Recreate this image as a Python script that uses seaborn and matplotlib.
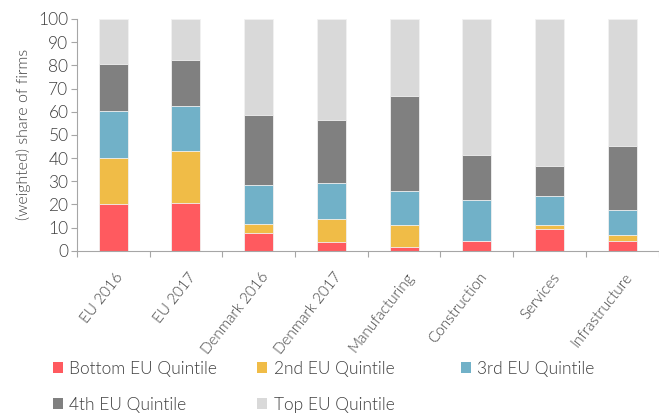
import matplotlib
matplotlib.use("Agg")
import matplotlib.pyplot as plt
import matplotlib.transforms as mtrans
import seaborn as sns
import pandas as pd
import numpy as np
from matplotlib.patches import Patch
from matplotlib.ticker import FixedLocator

categories = ["EU 2016", "EU 2017", "Denmark 2016", "Denmark 2017",
              "Manufacturing", "Construction", "Services", "Infrastructure"]
series = ["Bottom EU Quintile", "2nd EU Quintile", "3rd EU Quintile",
          "4th EU Quintile", "Top EU Quintile"]
bottom_q = [20.0, 20.7, 7.6, 3.9, 1.6, 4.0, 9.4, 4.0]
second_q = [20.1, 22.2, 4.1, 9.8, 9.5, 0.0, 1.7, 2.8]
third_q = [20.1, 19.7, 16.8, 15.5, 14.5, 17.7, 12.4, 10.8]
fourth_q = [20.2, 19.6, 29.9, 27.1, 41.3, 19.5, 13.1, 27.7]
top_q = [19.6, 17.8, 41.6, 43.7, 33.1, 58.8, 63.4, 54.7]
colors = ["#FF5A5F", "#F0BC47", "#71B1C8", "#808080", "#D9D9D9"]

sns.set_theme(style="white")
plt.rcParams["font.family"] = ["Lato", "DejaVu Sans"]
plt.rcParams["font.weight"] = 300
TXT = "#404040"

values = [bottom_q, second_q, third_q, fourth_q, top_q]
cum = np.cumsum(np.array(values), axis=0)
df = pd.DataFrame({"category": categories})
for s, c in zip(series, cum):
    df[s] = c

fig = plt.figure(figsize=(6.59, 4.13), dpi=100)
ax = fig.add_axes([0.1165, 0.393, 0.883, 0.561])

for s, col in reversed(list(zip(series, colors))):
    sns.barplot(data=df, x="category", y=s, color=col, width=0.4, ax=ax,
                saturation=1, edgecolor="#F2F2F2", linewidth=0.6, order=categories)

ax.set_xlim(-0.5, len(categories) - 0.5)
ax.set_ylim(0, 100)
ax.set_yticks(range(0, 101, 10))
ax.set_ylabel("(weighted) share of firms", fontsize=11.5, color=TXT, labelpad=5,
              fontweight=300)
ax.set_xlabel("")
ax.tick_params(axis="y", labelsize=12.5, length=4, width=0.8,
               left=True, color="#A6A6A6", pad=2)
for t in ax.get_yticklabels():
    t.set_color(TXT)
    t.set_fontweight(300)
ax.set_xticks(range(len(categories)))
ax.set_xticklabels(categories, rotation=52, ha="right", va="top",
                   rotation_mode="anchor", fontsize=11, color=TXT, fontweight=300)
ax.tick_params(axis="x", which="major", length=0, pad=14)
shift = mtrans.ScaledTranslation(2 / 100, 0, fig.dpi_scale_trans)
for t in ax.get_xticklabels():
    t.set_transform(t.get_transform() + shift)
ax.xaxis.set_minor_locator(FixedLocator(np.arange(-0.5, len(categories), 1.0)))
ax.tick_params(axis="x", which="minor", length=4, width=0.8, color="#A6A6A6", bottom=True)

for side in ["top", "right"]:
    ax.spines[side].set_visible(False)
for side in ["left", "bottom"]:
    ax.spines[side].set_color("#A6A6A6")
    ax.spines[side].set_linewidth(0.8)

handles = [Patch(facecolor=c, edgecolor="none") for c in colors]
columns = [[0, 3], [1, 4], [2]]
xpos = [0.0804, 0.39, 0.6995]
for idx, x0 in zip(columns, xpos):
    leg = fig.legend([handles[i] for i in idx], [series[i] for i in idx],
                     loc="upper left", bbox_to_anchor=(x0, 0.127), ncol=1,
                     frameon=False, prop={"size": 12.5, "weight": 300},
                     handlelength=0.6, handleheight=0.6, borderpad=0,
                     borderaxespad=0, handletextpad=0.35, labelspacing=1.17,
                     labelcolor=TXT)

fig.savefig("out.png", dpi=100)
